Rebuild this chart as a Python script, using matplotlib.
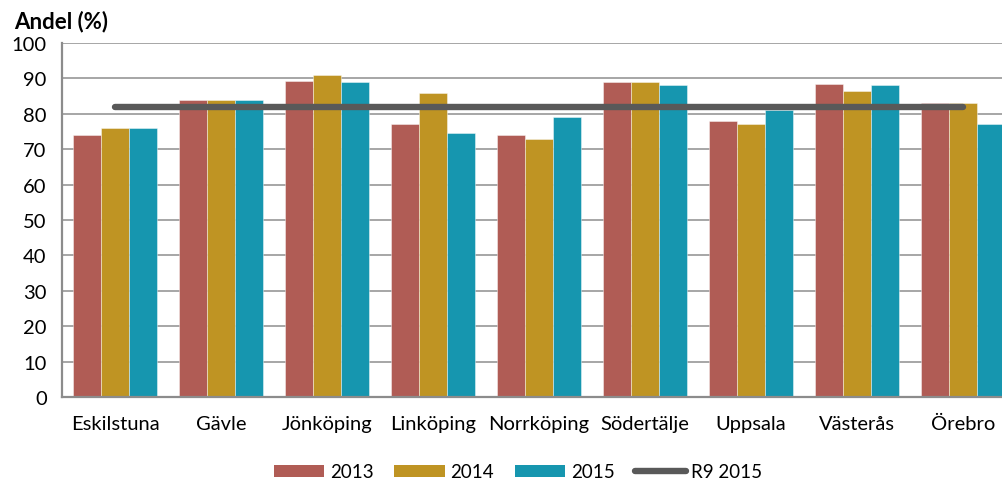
import matplotlib
matplotlib.use("Agg")
import matplotlib.pyplot as plt
import numpy as np
from matplotlib.patches import Patch
from matplotlib.lines import Line2D

categories = ["Eskilstuna", "Gävle", "Jönköping", "Linköping", "Norrköping",
              "Södertälje", "Uppsala", "Västerås", "Örebro"]
v2013 = [74, 84, 89.3, 77, 74, 89, 78, 88.3, 83]
v2014 = [76, 84, 91, 86, 73, 89, 77, 86.4, 83]
v2015 = [76, 84, 89, 74.5, 79, 88, 81, 88.2, 77]
r9_2015 = 82
series = [("2013", v2013, "#B05C55"), ("2014", v2014, "#BF9423"), ("2015", v2015, "#1696AF")]
yticks = [0, 10, 20, 30, 40, 50, 60, 70, 80, 90, 100]

plt.rcParams['font.family'] = ['Lato', 'DejaVu Sans']

fig = plt.figure(figsize=(10.02, 4.81), dpi=100)
ax = fig.add_axes([62/1002, 83/481, 954/1002, 354/481])

x = np.arange(len(categories))
w = 0.264
for i, (name, vals, col) in enumerate(series):
    ax.bar(x + (i - 1) * w, vals, width=w, color=col, edgecolor=(1, 1, 1, 0.5),
           linewidth=0.6, zorder=3)

ax.plot([x[0], x[-1]], [r9_2015, r9_2015], color="#595959", lw=4.6,
        solid_capstyle="round", zorder=4)

ax.set_xlim(-0.5, len(categories) - 0.5)
ax.set_ylim(0, 100)
ax.set_yticks(yticks)
ax.set_xticks(x)
ax.set_xticklabels(categories)
ax.tick_params(axis="both", length=0, labelsize=14.5, colors="black")
ax.tick_params(axis="y", pad=11)
ax.tick_params(axis="x", pad=13)
ax.yaxis.grid(True, color="#A6A6A6", lw=1.4, zorder=0)
ax.set_axisbelow(True)
for s in ["top", "right"]:
    ax.spines[s].set_visible(False)
for s in ["left", "bottom"]:
    ax.spines[s].set_color("#8C8C8C")
    ax.spines[s].set_linewidth(1.6)
ax.spines["bottom"].set_zorder(5)

fig.text(14/1002, 1 - 22/481, "Andel (%)", fontsize=16, fontweight="bold",
         va="center", ha="left")

handles = [Patch(facecolor=c, edgecolor="none") for _, _, c in series]
handles.append(Line2D([0], [0], color="#595959", lw=4.6, solid_capstyle="round"))
labels = [n for n, _, _ in series] + ["R9 2015"]
fig.legend(handles, labels, loc="center", bbox_to_anchor=(518/1002, 1 - 473/481),
           ncol=4, frameon=False, fontsize=13.5, handlelength=2.7, handleheight=0.55,
           columnspacing=1.1, handletextpad=0.3)

fig.savefig("out.png", dpi=100)
